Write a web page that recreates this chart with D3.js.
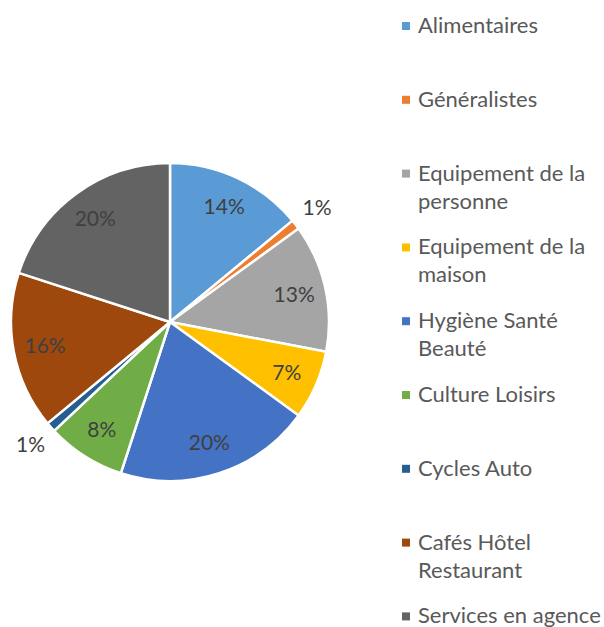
<!DOCTYPE html>
<html>
<head>
<meta charset="utf-8">
<script src="https://cdn.jsdelivr.net/npm/d3@7"></script>
<style>
  html, body { margin: 0; padding: 0; background: #fff; }
  svg { display: block; }
  text { font-family: Lato, "Open Sans", sans-serif; }
</style>
</head>
<body>
<svg id="chart" width="604" height="627"></svg>
<script>
// Répartition des commerces par secteur (%)
const categories = [
  "Alimentaires",
  "Généralistes",
  "Equipement de la\npersonne",
  "Equipement de la\nmaison",
  "Hygiène Santé\nBeauté",
  "Culture Loisirs",
  "Cycles Auto",
  "Cafés Hôtel\nRestaurant",
  "Services en agence"
];
const values = [14, 1, 13, 7, 20, 8, 1, 16, 20];
const colors = ["#5B9BD5", "#ED7D31", "#A5A5A5", "#FFC000", "#4472C4",
                "#70AD47", "#255E91", "#9E480E", "#636363"];

const data = categories.map((c, i) => ({ name: c, value: values[i], color: colors[i] }));

const svg = d3.select("#chart");
const cx = 170, cy = 322, r = 159;

const pie = d3.pie().value(d => d.value).sort(null);
const arcs = pie(data);
const total = d3.sum(values);

const arc = d3.arc().innerRadius(0).outerRadius(r);
const labelArc = d3.arc().innerRadius(r * 0.8).outerRadius(r * 0.8);
const outerLabelArc = d3.arc().innerRadius(r * 1.17).outerRadius(r * 1.17);

const g = svg.append("g").attr("transform", `translate(${cx},${cy})`);

g.selectAll("path.slice")
  .data(arcs)
  .join("path")
  .attr("class", "slice")
  .attr("d", arc)
  .attr("fill", d => d.data.color)
  .attr("stroke", "#fff")
  .attr("stroke-width", 2.5)
  .attr("stroke-linejoin", "round");

// Small slices get their label outside the pie
g.selectAll("text.pct")
  .data(arcs)
  .join("text")
  .attr("class", "pct")
  .attr("transform", d => {
    const p = (d.data.value / total < 0.03 ? outerLabelArc : labelArc).centroid(d);
    return `translate(${p[0]},${p[1]})`;
  })
  .attr("text-anchor", "middle")
  .attr("dy", "0.35em")
  .attr("fill", "#404040")
  .attr("font-size", 21)
  .text(d => Math.round(d.data.value / total * 100) + "%");

// Legend
const legend = svg.append("g").attr("transform", "translate(402,0)");
const rows = legend.selectAll("g.row")
  .data(data)
  .join("g")
  .attr("class", "row")
  .attr("transform", (d, i) => `translate(0,${33 + i * 73.8})`);

rows.append("rect")
  .attr("x", 0).attr("y", -11)
  .attr("width", 8).attr("height", 8)
  .attr("fill", d => d.color);

rows.append("text")
  .attr("x", 16)
  .attr("fill", "#595959")
  .attr("font-size", 22)
  .selectAll("tspan")
  .data(d => d.name.split("\n"))
  .join("tspan")
  .attr("x", 16)
  .attr("dy", (d, i) => i === 0 ? 0 : 28)
  .text(d => d);
</script>
</body>
</html>
